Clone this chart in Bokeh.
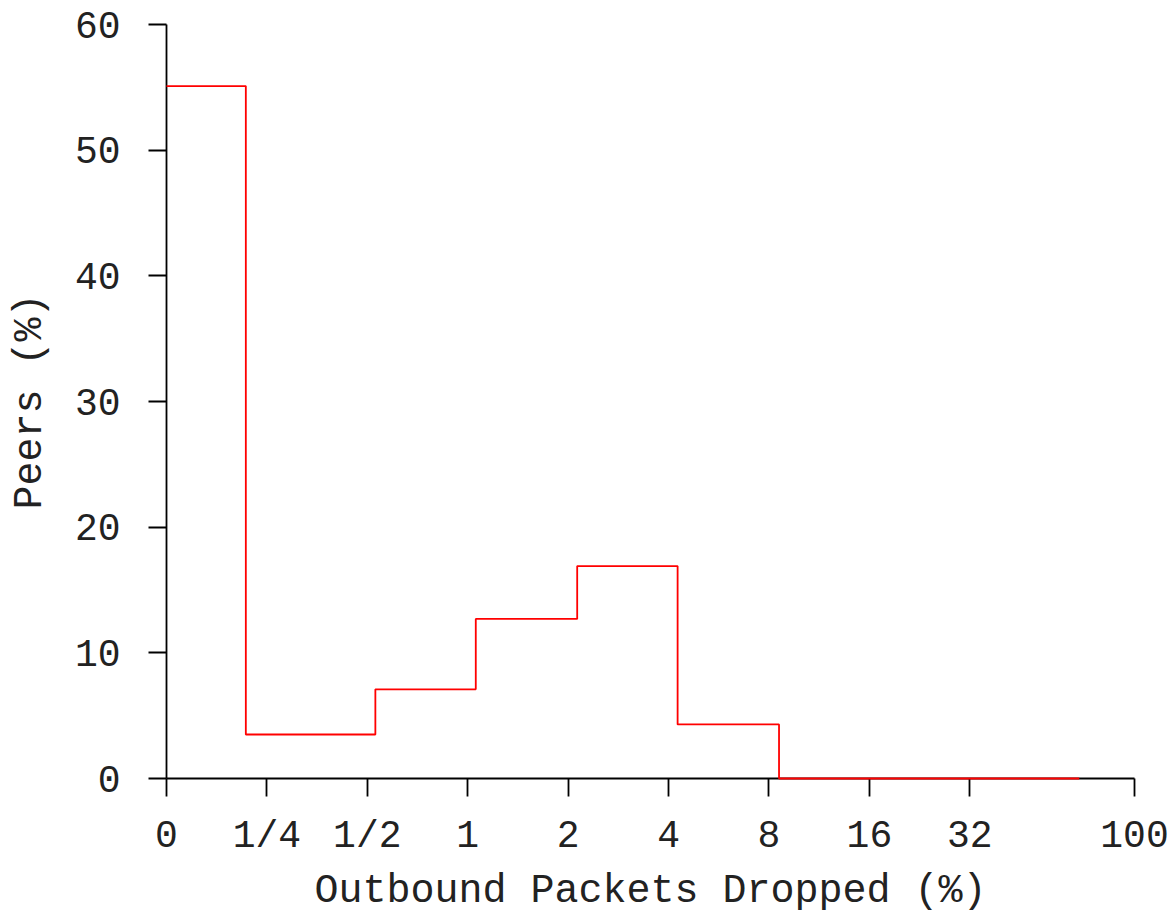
from bokeh.plotting import figure
from bokeh.models import FixedTicker, Range1d
from bokeh.embed import file_html
from bokeh.resources import INLINE

# Data
tick_labels = ["0", "1/4", "1/2", "1", "2", "4", "8", "16", "32", "100"]
tick_positions = [0, 1, 2, 3, 4, 5, 6, 7, 8, 9.64]
bin_edges = [0, 0.79, 2.08, 3.08, 4.09, 5.09, 6.1, 9.09]
peers_pct = [55.1, 3.5, 7.1, 12.7, 16.9, 4.3, 0.0]
y_ticks = [0, 10, 20, 30, 40, 50, 60]

FONT = "Liberation Mono"
TXT = "#222222"

p = figure(width=1171, height=917, output_backend="svg", toolbar_location=None,
           x_range=Range1d(0, 9.64), y_range=Range1d(0, 60),
           min_border_left=166, min_border_right=37, min_border_top=24, min_border_bottom=139)
p.outline_line_color = None
p.background_fill_color = "white"
p.border_fill_color = "white"
p.xgrid.visible = False
p.ygrid.visible = False

step_y = peers_pct + [peers_pct[-1]]
r = p.step(bin_edges, step_y, mode="after", line_color="red", line_width=1.8)
r.level = "overlay"

p.xaxis.ticker = FixedTicker(ticks=tick_positions)
p.xaxis.major_label_overrides = {pos: lab for pos, lab in zip(tick_positions, tick_labels)}
p.yaxis.ticker = FixedTicker(ticks=y_ticks)

for ax in (p.xaxis, p.yaxis):
    ax.axis_line_color = "black"
    ax.axis_line_width = 1.8
    ax.major_tick_line_color = "black"
    ax.major_tick_line_width = 1.8
    ax.major_tick_out = 18
    ax.major_tick_in = 0
    ax.minor_tick_line_color = None
    ax.major_label_text_font = FONT
    ax.major_label_text_font_size = "38px"
    ax.major_label_text_color = TXT
    ax.axis_label_text_font = FONT
    ax.axis_label_text_font_size = "40px"
    ax.axis_label_text_font_style = "normal"
    ax.axis_label_text_color = TXT

p.xaxis.axis_label = "Outbound Packets Dropped (%)"
p.yaxis.axis_label = "Peers (%)"
p.xaxis.major_label_standoff = 18
p.xaxis.axis_label_standoff = 8
p.yaxis.major_label_standoff = 28
p.yaxis.axis_label_standoff = 19

open("out.html", "w").write(file_html(p, INLINE))
